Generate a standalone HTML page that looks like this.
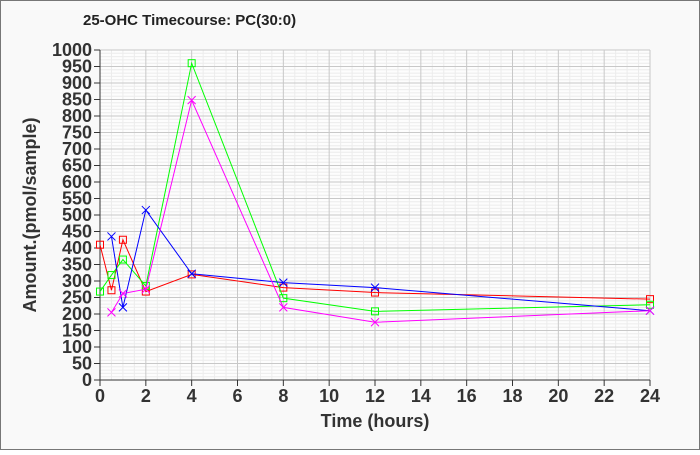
<!DOCTYPE html><html><head><style>body{margin:0;background:#fff}#c{width:700px;height:450px}</style></head><body>
<svg id="c" width="700" height="450" xmlns="http://www.w3.org/2000/svg" font-family="Liberation Sans, sans-serif">
<rect x="0.5" y="0.5" width="699" height="449" fill="#f9f9f9" stroke="#777"/>
<text x="83" y="25" font-size="15" font-weight="bold" fill="#222">25-OHC Timecourse: PC(30:0)</text>
<rect x="100" y="50" width="550" height="330" fill="#fdfdfd"/>
<g id="g"></g>
<text x="375" y="427" font-size="18" font-weight="bold" fill="#333" text-anchor="middle">Time (hours)</text>
<text transform="translate(36,215) rotate(-90)" font-size="18" font-weight="bold" fill="#333" text-anchor="middle">Amount.(pmol/sample)</text>
</svg>
<script>
const g=document.getElementById('g');let s='';
const X=h=>100+h*550/24,Y=v=>380-v*0.33;
for(let v=0;v<=1000;v+=10){if(v%50)s+=`<line x1="100" x2="650" y1="${Y(v)}" y2="${Y(v)}" stroke="#ececec"/>`;}
for(let h=0;h<=24;h+=0.5){if(h%2)s+=`<line y1="50" y2="380" x1="${X(h)}" x2="${X(h)}" stroke="#ececec"/>`;}
for(let v=0;v<=1000;v+=50){s+=`<line x1="100" x2="650" y1="${Y(v)}" y2="${Y(v)}" stroke="#c8c8c8"/><line x1="94" x2="100" y1="${Y(v)}" y2="${Y(v)}" stroke="#333"/><text x="92" y="${Y(v)+6}" font-size="18" font-weight="bold" fill="#333" text-anchor="end">${v}</text>`;}
for(let h=0;h<=24;h+=2){s+=`<line y1="50" y2="380" x1="${X(h)}" x2="${X(h)}" stroke="#c8c8c8"/><line y1="380" y2="386" x1="${X(h)}" x2="${X(h)}" stroke="#333"/><text x="${X(h)}" y="402" font-size="18" font-weight="bold" fill="#333" text-anchor="middle">${h}</text>`;}
s+=`<line x1="100" x2="100" y1="50" y2="380" stroke="#333"/><line x1="100" x2="650" y1="380" y2="380" stroke="#333"/>`;
const ser=[
['#f00','sq',[[0,410],[0.5,272],[1,425],[2,268],[4,320],[8,280],[12,265],[24,245]]],
['#0f0','sq',[[0,268],[0.5,318],[1,365],[2,285],[4,960],[8,248],[12,208],[24,228]]],
['#00f','x',[[0.5,435],[1,220],[2,515],[4,322],[8,295],[12,280],[24,210]]],
['#f0f','x',[[0.5,205],[1,262],[2,275],[4,848],[8,220],[12,175],[24,210]]]];
for(const [c,m,p] of ser){s+=`<polyline fill="none" stroke="${c}" points="${p.map(q=>X(q[0])+','+Y(q[1])).join(' ')}"/>`;
for(const q of p){const x=X(q[0]),y=Y(q[1]);if(m=='sq')s+=`<rect x="${x-3.5}" y="${y-3.5}" width="7" height="7" fill="none" stroke="${c}"/>`;else s+=`<path d="M${x-4} ${y-4}L${x+4} ${y+4}M${x-4} ${y+4}L${x+4} ${y-4}" stroke="${c}"/>`;}}
g.innerHTML=s;
</script></body></html>
